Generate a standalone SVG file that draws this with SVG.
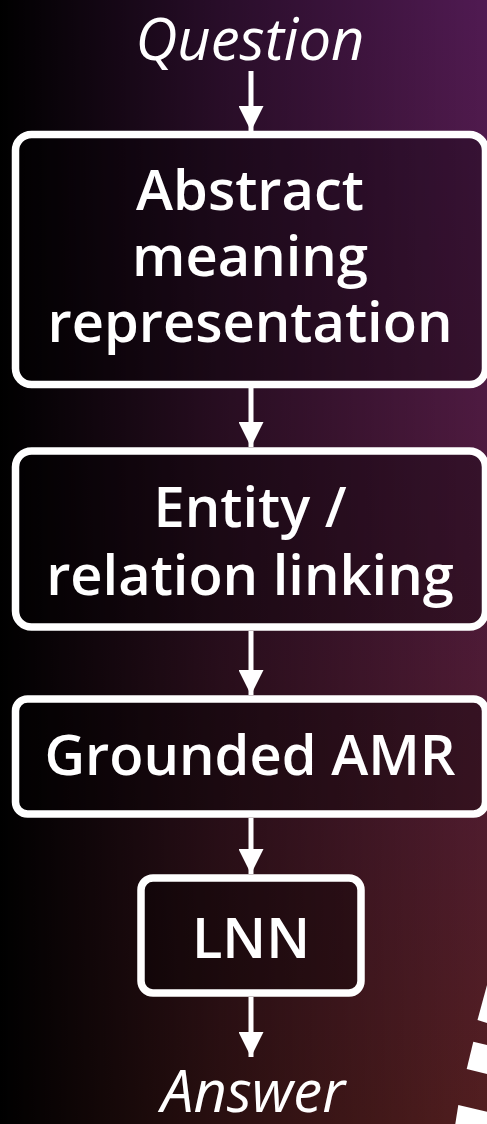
<svg xmlns="http://www.w3.org/2000/svg" width="487" height="1124" viewBox="0 0 487 1124">
<defs>
<linearGradient id="bgV" x1="0" y1="0" x2="0" y2="1">
<stop offset="0" stop-color="#501a52"/>
<stop offset="0.5" stop-color="#4d1a3a"/>
<stop offset="1" stop-color="#521e1f"/>
</linearGradient>
<linearGradient id="bgH" x1="0" y1="0" x2="1" y2="0">
<stop offset="0" stop-color="#000" stop-opacity="1"/>
<stop offset="0.45" stop-color="#000" stop-opacity="0.5"/>
<stop offset="1" stop-color="#000" stop-opacity="0"/>
</linearGradient>
<marker id="arr" markerUnits="userSpaceOnUse" markerWidth="28" markerHeight="25" refX="27" refY="13.5" orient="auto" viewBox="0 0 28 27">
<path d="M0,0 L27,13.5 L0,27 Z" fill="#fff"/>
</marker>
<style>
.box{fill:#000;fill-opacity:0.3;stroke:#fff;stroke-width:7.5}
.lbl{font-family:"Open Sans","Noto Sans",sans-serif;font-weight:600;font-size:56px;fill:#fff;text-anchor:middle}
.io{font-family:"Open Sans","Noto Sans",sans-serif;font-style:italic;font-weight:400;font-size:58px;fill:#fff;text-anchor:middle}
.conn{stroke:#fff;stroke-width:5;fill:none;marker-end:url(#arr)}
.dash{fill:#fff}
</style>
</defs>
<rect x="0" y="0" width="487" height="1124" fill="url(#bgV)"/>
<rect x="0" y="0" width="487" height="1124" fill="url(#bgH)"/>
<g id="stripes">
<polygon class="dash" points="487,985 487,1023 477.5,1020"/>
<polygon class="dash" points="473.3,1041.7 487,1045 487,1074 466.7,1069"/>
<polygon class="dash" points="458.3,1105 487,1111.7 487,1124 455.3,1124"/>
</g>
<g id="connectors">
<line class="conn" x1="251" y1="71" x2="251" y2="131"/>
<line class="conn" x1="251" y1="388" x2="251" y2="447"/>
<line class="conn" x1="251" y1="631" x2="251" y2="695"/>
<line class="conn" x1="251" y1="818" x2="251" y2="874"/>
<line class="conn" x1="251" y1="997" x2="251" y2="1057"/>
</g>
<g id="question">
<text class="io" x="250" y="60">Question</text>
</g>
<g id="amr">
<rect class="box" x="15.5" y="134.5" width="470" height="250" rx="16"/>
<text class="lbl"><tspan x="250" y="210">Abstract</tspan><tspan x="250" y="276">meaning</tspan><tspan x="250" y="342">representation</tspan></text>
</g>
<g id="linking">
<rect class="box" x="15.5" y="451" width="470" height="176" rx="16"/>
<text class="lbl"><tspan x="250" y="527">Entity /</tspan><tspan x="250" y="595">relation linking</tspan></text>
</g>
<g id="grounded">
<rect class="box" x="15.5" y="699" width="470" height="115" rx="12"/>
<text class="lbl" x="250" y="775">Grounded AMR</text>
</g>
<g id="lnn">
<rect class="box" x="141" y="878" width="220" height="115" rx="12"/>
<text class="lbl" x="251" y="958">LNN</text>
</g>
<g id="answer">
<text class="io" x="253" y="1112">Answer</text>
</g>
</svg>
